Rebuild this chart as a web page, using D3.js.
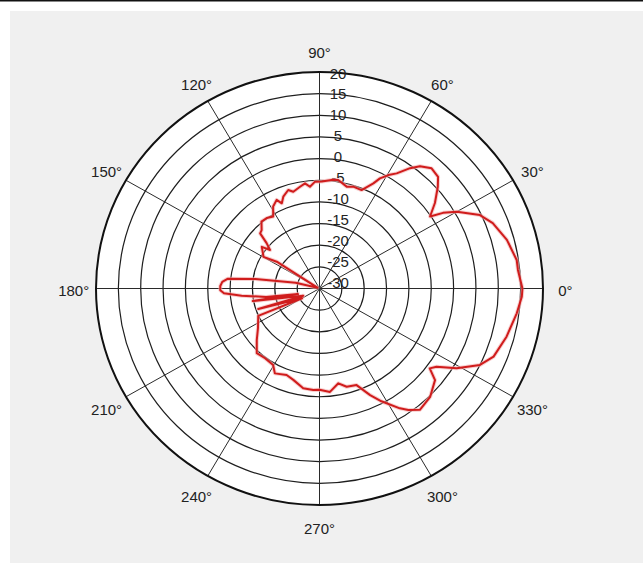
<!DOCTYPE html>
<html>
<head>
<meta charset="utf-8">
<script src="https://cdn.jsdelivr.net/npm/d3@7"></script>
<style>
html,body{margin:0;padding:0;background:#fff;}
svg{display:block;}
text{font-family:"Liberation Sans",Arial,sans-serif;fill:#222;}
</style>
</head>
<body>
<svg id="chart" width="643" height="563"></svg>
<script>
// ---- data ----
const angleDeg = [0,5.5,8.5,15,21.3,25.3,30,32.3,33.9,37.4,41.6,44.2,47.9,51.5,53.9,57,59.5,62,63.6,67.5,72.2,75.5,80.5,83,88.8,92.3,95.2,97.6,100.5,104.7,107.1,110.9,113.2,115.1,118.7,121.9,126,130,133.8,136.2,138.5,141.2,143.3,149.7,147.1,158,166,171.4,173.8,176,178.5,181,183,185.5,189.3,195,191,205,199,210,204.8,213.5,220.3,226.8,232.9,239.6,243,249.8,254.5,261,266.6,270,275.6,280.9,285,290.4,294.7,298,303,305.3,308.7,314.7,320.7,323.2,325.4,329,333.8,338,345.1,352.6,357.6,360];
const gainDb = [15.4,14.6,14.6,13.4,11.6,9.7,5.5,2.7,-0.2,2.5,5.4,7.0,7.4,6.1,4.4,1.7,0.4,-1.2,-2.9,-5.4,-5.3,-5.7,-4.6,-4.7,-5.3,-5.3,-6.4,-5.5,-6.1,-6.9,-6.2,-7.3,-8.6,-7.4,-8.4,-10.4,-9.9,-9.8,-11.3,-11.6,-14.2,-15.8,-13.9,-15.5,-18.6,-29.5,-24.5,-15.5,-9.3,-8.2,-7.8,-7.8,-8.6,-12.5,-17.9,-25.0,-14.8,-26.0,-15.5,-25.5,-14.9,-13.5,-11.6,-9.5,-9.8,-9.5,-8.0,-8.7,-8.1,-6.7,-6.5,-6.6,-6.0,-7.7,-6.5,-6.2,-2.9,-0.5,3.0,4.4,5.9,5.2,3.4,0.8,1.8,5.8,10.0,12.0,13.3,14.5,15.3,15.4];
const ringValues = [-30,-25,-20,-15,-10,-5,0,5,10,15,20];
const spokeAngles = [0,30,60,90,120,150,180,210,240,270,300,330];
const angleLabels = ["0°","30°","60°","90°","120°","150°","180°","210°","240°","270°","300°","330°"];

// ---- layout ----
const svg = d3.select("#chart");
const cx = 319.5, cy = 288.5, rx = 223.5, ry = 216.5;
const r = d3.scaleLinear().domain([-30,20]).range([0,1]).clamp(true);
const toRad = d => d*Math.PI/180;
const px = (a,f) => cx + f*rx*Math.cos(toRad(a));
const py = (a,f) => cy - f*ry*Math.sin(toRad(a));

// background
svg.append("rect").attr("x",0).attr("y",0).attr("width",643).attr("height",563).attr("fill","#fff");
svg.append("rect").attr("x",0).attr("y",0).attr("width",643).attr("height",1.5).attr("fill","#111");
svg.append("rect").attr("x",10).attr("y",11).attr("width",633).attr("height",552).attr("fill","#f0f0f0");

// plot disk
svg.append("ellipse").attr("cx",cx).attr("cy",cy).attr("rx",rx).attr("ry",ry).attr("fill","#fff");

// rings
const g = svg.append("g");
g.selectAll("ellipse.ring").data(ringValues.slice(1,-1)).enter().append("ellipse")
  .attr("cx",cx).attr("cy",cy)
  .attr("rx",d=>r(d)*rx).attr("ry",d=>r(d)*ry)
  .attr("fill","none").attr("stroke","#1e1e1e").attr("stroke-width",1.2);

// spokes
g.selectAll("line.spoke").data(spokeAngles.slice(0,6)).enter().append("line")
  .attr("x1",d=>px(d,1)).attr("y1",d=>py(d,1))
  .attr("x2",d=>px(d+180,1)).attr("y2",d=>py(d+180,1))
  .attr("stroke","#2a2a2a").attr("stroke-width",1);

// outer ring
g.append("ellipse").attr("cx",cx).attr("cy",cy).attr("rx",rx).attr("ry",ry)
  .attr("fill","none").attr("stroke","#111").attr("stroke-width",2);

// radial tick labels
g.selectAll("text.rt").data(ringValues).enter().append("text")
  .attr("x",338)
  .attr("y",d=>cy - r(d)*ry*0.965 - 6.5)
  .attr("text-anchor","middle").attr("dominant-baseline","central")
  .attr("font-size",15)
  .text(d=>d);

// angle labels
g.selectAll("text.at").data(spokeAngles).enter().append("text")
  .attr("x",(d)=>px(d,1.1))
  .attr("y",(d)=>py(d,1.1)+2)
  .attr("text-anchor","middle").attr("dominant-baseline","central")
  .attr("font-size",15)
  .text((d,i)=>angleLabels[i]);

// data curve
const pts = angleDeg.map((a,i)=>[px(a,r(gainDb[i])), py(a,r(gainDb[i]))]);
svg.append("path").attr("d",d3.line()(pts))
  .attr("fill","none").attr("stroke","#f3b0b0").attr("stroke-width",4).attr("stroke-linejoin","round").attr("opacity",0.6);
svg.append("path").attr("d",d3.line()(pts))
  .attr("fill","none").attr("stroke","#d01c1c").attr("stroke-width",2).attr("stroke-linejoin","round");
</script>
</body>
</html>
